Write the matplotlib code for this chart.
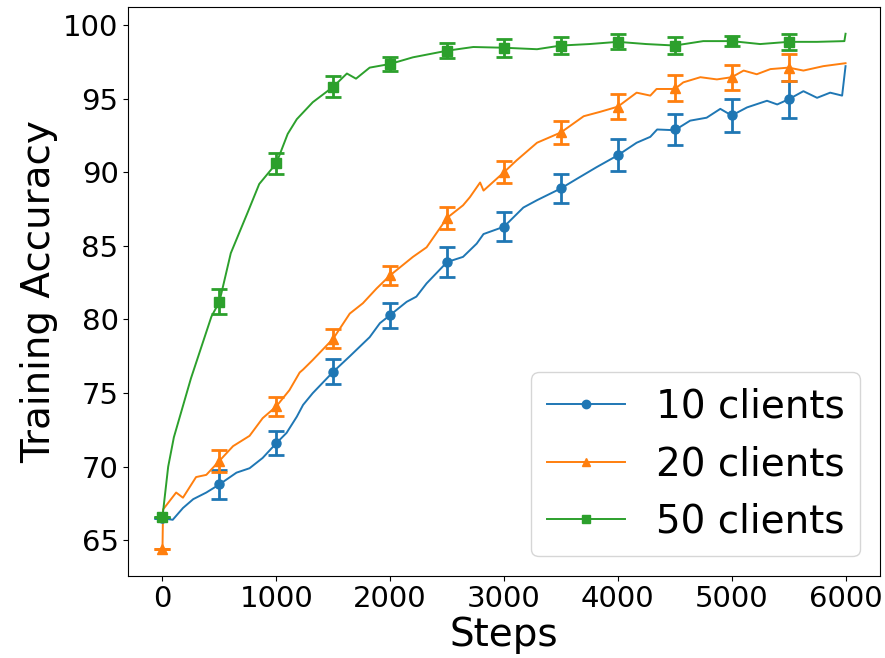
import numpy as np
import matplotlib
matplotlib.use("Agg")
import matplotlib.pyplot as plt
from matplotlib.lines import Line2D

# curve points (steps, accuracy)
steps_10 = [0, 90, 180, 270, 385, 500, 650, 765, 880, 1000, 1090, 1180, 1235, 1320,
            1500, 1645, 1820, 1910, 2000, 2145, 2230, 2320, 2500, 2640, 2760, 2820,
            3000, 3170, 3290, 3500, 3640, 3815, 4000, 4165, 4285, 4345, 4500, 4635,
            4780, 4900, 5000, 5135, 5310, 5400, 5500, 5630, 5750, 5865, 5970, 6000]
acc_10 = [66.5, 66.4, 67.2, 67.8, 68.25, 68.8, 69.6, 69.9, 70.6, 71.6, 72.3, 73.4, 74.2, 75.0,
          76.45, 77.5, 78.8, 79.75, 80.3, 81.2, 81.55, 82.45, 83.9, 84.25, 85.15, 85.8,
          86.3, 87.6, 88.1, 88.9, 89.55, 90.35, 91.15, 92.0, 92.4, 92.9, 92.85, 93.5,
          93.7, 94.3, 93.85, 94.4, 94.85, 94.6, 94.95, 95.5, 95.05, 95.4, 95.2, 97.2]

steps_20 = [0, 5, 120, 180, 295, 385, 500, 620, 765, 880, 1000, 1115, 1205, 1235, 1320,
            1500, 1645, 1760, 1880, 2000, 2200, 2320, 2500, 2640, 2700, 2790, 2820,
            3000, 3110, 3290, 3500, 3700, 3845, 4000, 4165, 4285, 4340, 4500, 4575,
            4725, 4870, 5000, 5105, 5220, 5340, 5500, 5630, 5805, 6000]
acc_20 = [64.4, 67.1, 68.25, 67.9, 69.3, 69.45, 70.4, 71.4, 72.1, 73.3, 74.1, 75.2, 76.4, 76.6, 77.25,
          78.7, 80.4, 81.1, 82.1, 83.0, 84.25, 84.9, 86.9, 87.75, 88.3, 89.3, 88.75,
          90.0, 90.8, 92.0, 92.7, 93.8, 94.1, 94.45, 95.4, 95.2, 95.65, 95.65, 96.1,
          96.45, 96.3, 96.45, 96.9, 96.65, 97.0, 97.1, 96.9, 97.2, 97.4]

steps_50 = [0, 50, 100, 250, 430, 500, 600, 750, 850, 1000, 1100, 1180, 1320, 1500,
            1620, 1700, 1820, 2000, 2200, 2500, 2730, 3000, 3290, 3500, 3750, 4000,
            4250, 4500, 4750, 5000, 5250, 5500, 5750, 5990, 6000]
acc_50 = [66.6, 70.0, 72.0, 76.0, 80.2, 81.2, 84.5, 87.3, 89.2, 90.6, 92.6, 93.6, 94.75, 95.8,
          96.7, 96.35, 97.1, 97.35, 97.8, 98.25, 98.5, 98.45, 98.35, 98.6, 98.7, 98.85,
          98.7, 98.6, 98.9, 98.9, 98.7, 98.85, 98.85, 98.9, 99.4]

# marker / error bar points every 500 steps
mark_steps = [0, 500, 1000, 1500, 2000, 2500, 3000, 3500, 4000, 4500, 5000, 5500]
mark_10 = [66.5, 68.8, 71.6, 76.45, 80.3, 83.9, 86.3, 88.9, 91.15, 92.9, 93.85, 94.95]
err_10 = [0, 1.0, 0.8, 0.85, 0.85, 1.0, 1.0, 1.0, 1.08, 1.05, 1.15, 1.25]
mark_20 = [64.4, 70.4, 74.1, 78.7, 83.0, 86.9, 90.0, 92.7, 94.45, 95.7, 96.45, 97.1]
err_20 = [0, 0.75, 0.65, 0.65, 0.65, 0.75, 0.75, 0.8, 0.85, 0.9, 0.85, 0.9]
mark_50 = [66.6, 81.2, 90.6, 95.8, 97.35, 98.25, 98.45, 98.6, 98.85, 98.6, 98.9, 98.85]
err_50 = [0, 0.85, 0.7, 0.7, 0.5, 0.5, 0.6, 0.6, 0.5, 0.55, 0.35, 0.55]

labels = ["10 clients", "20 clients", "50 clients"]
colors = ["#1f77b4", "#ff7f0e", "#2ca02c"]
markers = ["o", "^", "s"]

fig = plt.figure(figsize=(8.85, 6.58), dpi=100)
ax = fig.add_axes([0.145, 0.125, 0.849, 0.864])

series = [(steps_10, acc_10, mark_10, err_10),
          (steps_20, acc_20, mark_20, err_20),
          (steps_50, acc_50, mark_50, err_50)]
handles = []
for (sx, sy, my, me), c, m, lab in zip(series, colors, markers, labels):
    ax.plot(sx, sy, color=c, lw=1.4)
    ax.errorbar(mark_steps, my, yerr=me, fmt=m, color=c, ms=6.5,
                capsize=6, capthick=2, elinewidth=2)
    handles.append(Line2D([], [], color=c, lw=1.4, marker=m, ms=6, label=lab))

ax.set_xlim(-300, 6300)
ax.set_ylim(62.6, 101.2)
ax.set_xticks(range(0, 6001, 1000))
ax.set_yticks(range(65, 101, 5))
ax.tick_params(labelsize=21)
ax.set_xlabel("Steps", fontsize=28, labelpad=2)
ax.set_ylabel("Training Accuracy", fontsize=28)
ax.legend(handles=handles, loc="lower right", fontsize=28, labelspacing=0.5)

fig.savefig("out.png", dpi=100)
